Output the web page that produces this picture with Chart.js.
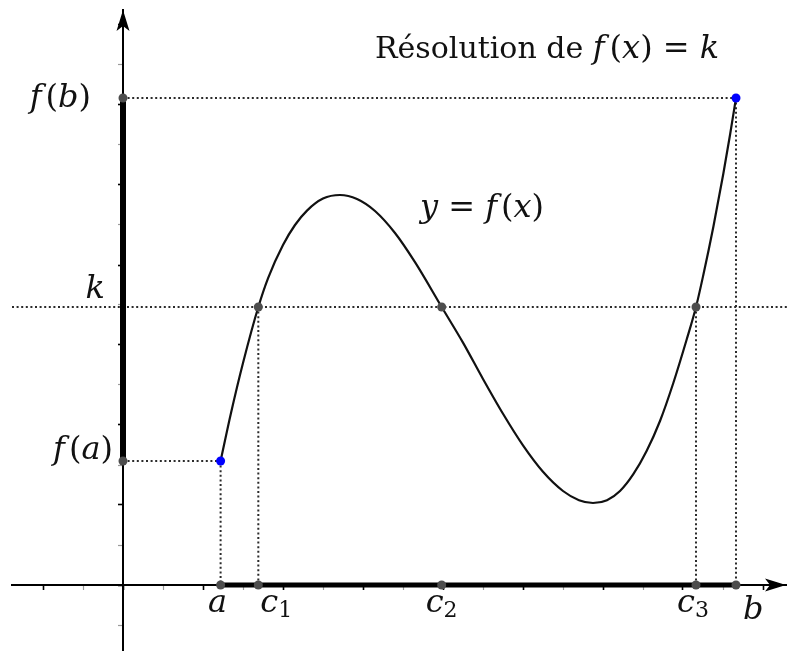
<!DOCTYPE html>
<html><head><meta charset="utf-8">
<script src="https://cdn.jsdelivr.net/npm/chart.js@4"></script>
<style>html,body{margin:0;padding:0;background:#fff;}canvas{display:block}</style>
</head><body>
<canvas id="c" width="787" height="651"></canvas>
<script>
// ---- data (units: one tick = 1) ----
const pointNames = ['a', 'c1', 'c2', 'c3', 'b'];
const pointX = [2.44, 3.383, 7.967, 14.325, 15.325];
const levelNames = ['f(a)', 'k', 'f(b)'];
const levelY = [3.1, 6.95, 12.175];
const curveX = [2.44, 2.7, 3.0, 3.383, 3.63, 4.0, 4.3, 4.6, 5.0, 5.425, 5.85, 6.3, 6.8, 7.3, 7.967,
  8.5, 9.0, 9.5, 10.0, 10.5, 11.0, 11.4, 11.75, 12.1, 12.425, 12.758, 13.09, 13.425, 13.758,
  14.09, 14.325, 14.508, 14.758, 15.008, 15.175, 15.325];
const curveY = [3.1, 4.3, 5.55, 6.95, 7.68, 8.5, 9.0, 9.36, 9.66, 9.75, 9.65, 9.35, 8.8, 8.07, 6.95,
  6.06, 5.15, 4.28, 3.49, 2.83, 2.35, 2.12, 2.05, 2.12, 2.35, 2.77, 3.35, 4.1, 5.05,
  6.13, 6.95, 7.75, 8.95, 10.28, 11.25, 12.175];
const xRange = [-2.775, 16.6];
const yRange = [-1.65, 14.375];
const tickStep = 1;
const arrowX = 16.3;   // centre of x-axis arrowhead
const arrowY = 14.1;   // centre of y-axis arrowhead

const [fa, k, fb] = levelY;
const [a, c1, c2, c3, b] = pointX;

function arrowImg() {
  const cv = document.createElement('canvas');
  cv.width = 14; cv.height = 22;
  const g = cv.getContext('2d');
  g.fillStyle = '#000';
  g.beginPath();
  g.moveTo(7, 0); g.lineTo(13.5, 21); g.lineTo(7, 16); g.lineTo(0.5, 21); g.closePath();
  g.fill();
  return cv;
}
const arrow = arrowImg();

const DOT = '#2b2b2b';
const seg = (p1, p2) => ({
  data: [p1, p2], showLine: true, pointRadius: 0, borderColor: DOT, borderWidth: 2,
  borderDash: [2, 2.6], order: 5
});

const datasets = [
  { data: curveX.map((x, i) => ({x, y: curveY[i]})), showLine: true, pointRadius: 0,
    borderColor: '#111', borderWidth: 2.2, cubicInterpolationMode: 'monotone', order: 3 },
  seg({x: 0, y: fb}, {x: b, y: fb}),
  seg({x: xRange[0], y: k}, {x: xRange[1], y: k}),
  seg({x: 0, y: fa}, {x: a, y: fa}),
  seg({x: a, y: fa}, {x: a, y: 0}),
  seg({x: c1, y: k}, {x: c1, y: 0}),
  seg({x: c3, y: k}, {x: c3, y: 0}),
  seg({x: b, y: fb}, {x: b, y: 0}),
  { data: [{x: 0, y: fa}, {x: 0, y: fb}], showLine: true, pointRadius: 0, borderColor: '#000', borderWidth: 6, order: 2 },
  { data: [{x: a, y: 0}, {x: b, y: 0}], showLine: true, pointRadius: 0, borderColor: '#000', borderWidth: 5, order: 2 },
  { data: [{x: 0, y: fb}, {x: 0, y: fa}, ...pointX.map(x => ({x, y: 0})), {x: c1, y: k}, {x: c2, y: k}, {x: c3, y: k}],
    showLine: false, pointRadius: 4.5, pointBackgroundColor: '#4d4d4d', pointBorderWidth: 0, order: 1 },
  { data: [{x: a, y: fa}, {x: b, y: fb}], showLine: false, pointRadius: 4.5,
    pointBackgroundColor: '#0000ff', pointBorderWidth: 0, order: 0 },
  { data: [{x: 0, y: arrowY}], showLine: false, pointStyle: arrow, pointRotation: 0, order: 0 },
  { data: [{x: arrowX, y: 0}], showLine: false, pointStyle: arrow, pointRotation: 90, order: 0 }
];

const FS = 32;   // math size
const TS = 30;   // title text size
const P = (t, it, extra) => Object.assign({t, it: !!it}, extra || {});
const F = (extra) => P('f', 1, Object.assign({gap: 4}, extra || {}));
const labels = [
  { px: 375, py: 58, parts: [P('Résolution de ', 0, {size: TS}), F({gap: 5}), P('('), P('x', 1), P(')'), P(' = '), P('k', 1)] },
  { px: 420, py: 217, parts: [P('y', 1), P(' = '), F(), P('('), P('x', 1), P(')')] },
  { x: 0, y: fb, dx: -32, dy: 9, align: 'right', parts: [F(), P('('), P('b', 1), P(')')] },
  { x: 0, y: k, dx: -18, dy: -9, align: 'right', parts: [P('k', 1)] },
  { x: 0, y: fa, dx: -10, dy: -2, align: 'right', parts: [F(), P('('), P('a', 1), P(')')] },
  { x: a, y: 0, dx: -3, dy: 27, align: 'center', parts: [P('a', 1)] },
  { x: c1, y: 0, dx: 2, dy: 27, parts: [P('c', 1), P('1', 0, {size: 22, dy: 5})] },
  { x: c2, y: 0, dx: -16, dy: 27, parts: [P('c', 1), P('2', 0, {size: 22, dy: 5})] },
  { x: c3, y: 0, dx: -19, dy: 27, parts: [P('c', 1), P('3', 0, {size: 22, dy: 5})] },
  { x: b, y: 0, dx: 7, dy: 34, parts: [P('b', 1)] }
];

const mathText = {
  id: 'mathText',
  afterDatasetsDraw(chart, args, opts) {
    const {ctx} = chart;
    const sx = chart.scales.x, sy = chart.scales.y;
    ctx.save();
    ctx.fillStyle = '#111';
    ctx.textBaseline = 'alphabetic';
    ctx.textAlign = 'left';
    for (const lab of opts.items) {
      const font = p => (p.it ? 'italic ' : '') + (p.size || FS) + 'px ' + opts.family;
      let total = 0;
      const w = lab.parts.map(p => { ctx.font = font(p); const m = ctx.measureText(p.t).width + (p.gap || 0); total += m; return m; });
      let px = lab.px !== undefined ? lab.px : sx.getPixelForValue(lab.x);
      let py = lab.py !== undefined ? lab.py : sy.getPixelForValue(lab.y);
      px += lab.dx || 0; py += lab.dy || 0;
      if (lab.align === 'right') px -= total; else if (lab.align === 'center') px -= total / 2;
      lab.parts.forEach((p, i) => { ctx.font = font(p); ctx.fillText(p.t, px, py + (p.dy || 0)); px += w[i]; });
    }
    ctx.restore();
  }
};

const even = c => c.tick && Math.abs(Math.round(c.tick.value)) % 2 === 0;
const axisOpts = (min, max, pos) => ({
  type: 'linear', min, max, position: pos,
  afterFit: s => { if (s.isHorizontal()) s.height = 0; else s.width = 0; },
  ticks: { display: false, stepSize: tickStep, includeBounds: false, maxTicksLimit: 100 },
  grid: { drawOnChartArea: false, drawTicks: true, tickLength: 4,
    tickColor: c => even(c) ? '#000' : '#9a9a9a', tickWidth: c => even(c) ? 1.6 : 1.2 },
  border: { display: true, color: '#000', width: 2 }
});

new Chart(document.getElementById('c'), {
  type: 'scatter',
  data: { datasets },
  options: {
    responsive: false, animation: false, events: [],
    layout: { autoPadding: false, padding: { left: 12, top: 10, right: 0, bottom: 0 } },
    scales: { x: axisOpts(xRange[0], xRange[1], {y: 0}), y: axisOpts(yRange[0], yRange[1], {x: 0}) },
    plugins: { legend: { display: false }, tooltip: { enabled: false },
      mathText: { family: '"DejaVu Serif", serif', items: labels } }
  },
  plugins: [mathText]
});
</script>
</body></html>
